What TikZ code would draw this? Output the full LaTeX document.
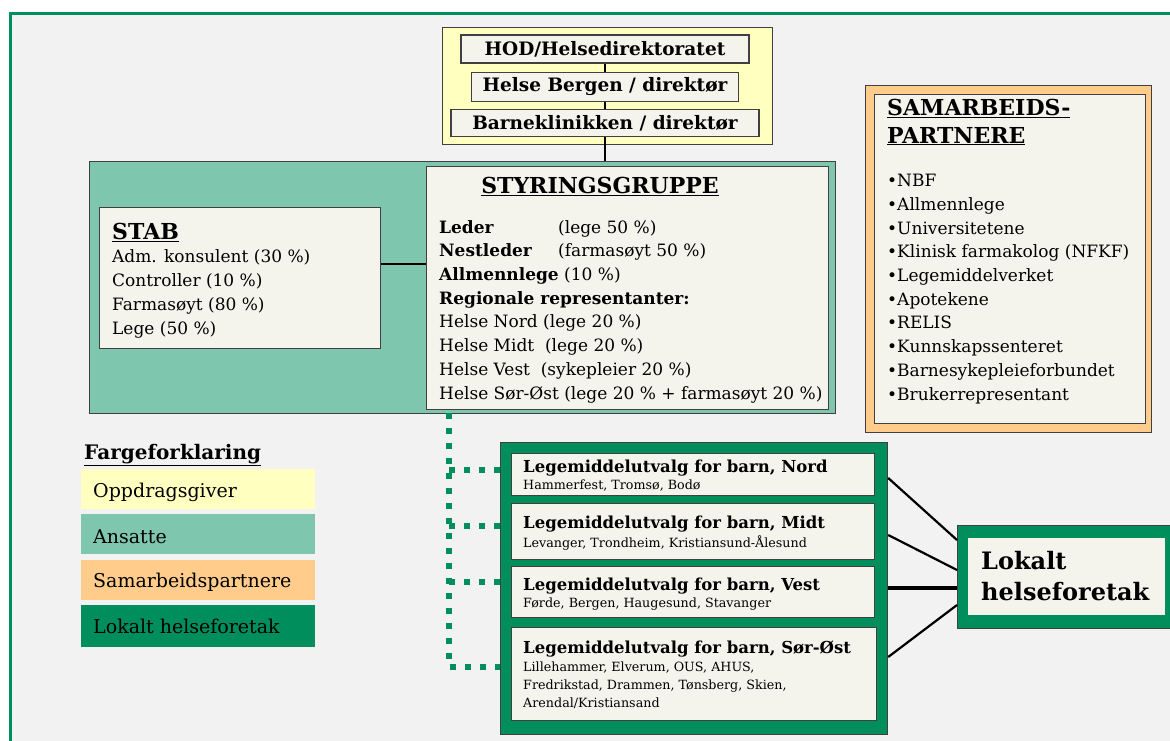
\documentclass[tikz,border=0pt]{standalone}
\usepackage{fontspec}
\setmainfont{DejaVu Serif}
\usetikzlibrary{positioning}
\definecolor{lhfgreen}{RGB}{0,142,92}
\definecolor{ansatt}{RGB}{127,198,175}
\definecolor{oppdrag}{RGB}{255,255,192}
\definecolor{samarb}{RGB}{255,204,140}
\definecolor{cream}{RGB}{245,244,236}
\definecolor{bggray}{RGB}{242,242,242}
\definecolor{boxline}{RGB}{64,64,64}
\tikzset{
  box/.style={draw=boxline, fill=cream, line width=1.2, inner sep=0pt},
  panel/.style={draw=boxline, line width=1.2, inner sep=0pt, anchor=north west},
  legbox/.style={inner sep=0pt, anchor=north west, minimum width=234, minimum height=40},
  txt/.style={inner sep=0pt, anchor=base west, align=left, font=\fontsize{17}{23.7}\selectfont},
  head/.style={inner sep=0pt, font=\bfseries\fontsize{22}{28}\selectfont},
  conn/.style={line width=2.2},
  dots/.style={draw=lhfgreen, line width=6, dash pattern=on 6pt off 9pt},
}
\begin{document}
\begin{tikzpicture}[x=1pt,y=-1pt]
\useasboundingbox (0,0) rectangle (1170,740);
\clip (0,0) rectangle (1170,740);
\fill[bggray] (10,13) rectangle (1180,750);
\draw[lhfgreen, line width=3] (10,13) rectangle (1180,750);

% oppdragsgiver
\node[panel, fill=oppdrag, minimum width=330, minimum height=117] (Oppdrag) at (442,27) {};
\node[box, minimum width=288, minimum height=28, font=\bfseries\fontsize{18.5}{22}\selectfont] (HOD) at (605,49) {HOD/Helsedirektoratet};
\node[box, below=8pt of HOD, minimum width=267, minimum height=29, font=\bfseries\fontsize{18.5}{22}\selectfont] (HB) {Helse Bergen / direktør};
\node[box, below=7pt of HB, minimum width=308, minimum height=27, font=\bfseries\fontsize{18.5}{22}\selectfont] (BK) {Barneklinikken / direktør};

% ansatte
\node[panel, fill=ansatt, minimum width=746, minimum height=252] (Ansatte) at (89,161) {};
\node[panel, fill=cream, minimum width=402, minimum height=243] (Styr) at (426,166) {};
\node[panel, fill=cream, minimum width=281, minimum height=141] (Stab) at (99,207) {};

% multi-line texts sit on the baseline of their last line
\node[head, anchor=base] (StyrHead) at (600,193) {\underline{STYRINGSGRUPPE}};
\node[txt] (StyrTxt) at (439,399) {\makebox[119pt][l]{\textbf{Leder}}(lege 50 \%)\\
  \makebox[119pt][l]{\textbf{Nestleder}}(farmasøyt 50 \%)\\
  \textbf{Allmennlege} (10 \%)\\
  \textbf{Regionale representanter:}\\
  Helse Nord (lege 20 \%)\\
  Helse Midt\ \ (lege 20 \%)\\
  Helse Vest\ \ (sykepleier 20 \%)\\
  Helse Sør-Øst (lege 20 \% + farmasøyt 20 \%)};

\node[head, anchor=base west] (StabHead) at (112,239) {\underline{STAB}};
\node[txt] (StabTxt) at (112,334) {Adm. konsulent (30 \%)\\Controller (10 \%)\\Farmasøyt (80 \%)\\Lege (50 \%)};

% samarbeidspartnere
\node[panel, fill=samarb, minimum width=286, minimum height=347] (Samarb) at (865,85) {};
\node[panel, fill=cream, minimum width=271, minimum height=329] (SamarbIn) at (874,94) {};
\node[head, anchor=base west, align=left] (SamarbHead) at (887,143) {\underline{SAMARBEIDS-}\\\underline{PARTNERE}};
\node[txt] (SamarbTxt) at (887,400) {•NBF\\•Allmennlege\\•Universitetene\\•Klinisk farmakolog (NFKF)\\•Legemiddelverket\\•Apotekene\\•RELIS\\•Kunnskapssenteret\\•Barnesykepleieforbundet\\•Brukerrepresentant};

% fargeforklaring
\node[inner sep=0pt, anchor=base west, font=\bfseries\fontsize{20}{24}\selectfont] (LegHead) at (84,459) {\underline{Fargeforklaring}};
\node[legbox, fill=oppdrag] (LegOpp) at (81,469) {};
\node[legbox, fill=ansatt] (LegAns) at (81,514) {};
\node[legbox, fill=samarb] (LegSam) at (81,560) {};
\node[legbox, fill=lhfgreen, minimum height=42] (LegLhf) at (81,605) {};
\node[txt, font=\fontsize{19}{23}\selectfont] at (93,497) {Oppdragsgiver};
\node[txt, font=\fontsize{19}{23}\selectfont] at (93,543) {Ansatte};
\node[txt, font=\fontsize{19}{23}\selectfont] at (93,587) {Samarbeidspartnere};
\node[txt, font=\fontsize{19}{23}\selectfont] at (93,633) {Lokalt helseforetak};

% legemiddelutvalg
\node[panel, fill=lhfgreen, minimum width=387, minimum height=292] (Utvalg) at (500,442) {};
\node[panel, fill=cream, minimum width=363, minimum height=42] (Nord) at (511,453) {};
\node[panel, fill=cream, minimum width=363, minimum height=56] (Midt) at (511,503) {};
\node[panel, fill=cream, minimum width=363, minimum height=51] (Vest) at (511,566) {};
\node[panel, fill=cream, minimum width=365, minimum height=93] (SorOst) at (511,627) {};
\tikzset{utit/.style={inner sep=0pt, anchor=base west, font=\bfseries\fontsize{16.5}{20}\selectfont},
         usub/.style={inner sep=0pt, anchor=base west, align=left, font=\fontsize{12.7}{17.7}\selectfont}}
\node[utit] at (523,472) {Legemiddelutvalg for barn, Nord};
\node[usub] at (523,489) {Hammerfest, Tromsø, Bodø};
\node[utit] at (523,528) {Legemiddelutvalg for barn, Midt};
\node[usub] at (523,547) {Levanger, Trondheim, Kristiansund-Ålesund};
\node[utit] at (523,590) {Legemiddelutvalg for barn, Vest};
\node[usub] at (523,607) {Førde, Bergen, Haugesund, Stavanger};
\node[utit] at (523,653) {Legemiddelutvalg for barn, Sør-Øst};
\node[usub] at (523,707) {Lillehammer, Elverum, OUS, AHUS,\\Fredrikstad, Drammen, Tønsberg, Skien,\\Arendal/Kristiansand};

% lokalt helseforetak
\node[panel, fill=lhfgreen, minimum width=225, minimum height=103] (LHF) at (957,525) {};
\node[panel, fill=cream, draw=none, minimum width=197, minimum height=77] (LHFIn) at (967,537) {};
\node[inner sep=0pt, anchor=base west, align=left, font=\bfseries\fontsize{24}{31}\selectfont] at (981,600) {Lokalt\\helseforetak};

% connectors
\draw[conn] (HOD.south) -- (HB.north);
\draw[conn] (HB.south) -- (BK.north);
\draw[conn] (BK.south) -- (BK.south |- Ansatte.north);
\draw[conn] (Stab.east |- 0,264) -- (Styr.west |- 0,264);
\draw[conn] (Utvalg.east |- 0,478) -- (LHF.west |- 0,540);
\draw[conn] (Utvalg.east |- 0,535) -- (LHF.west |- 0,570);
\draw[conn, line width=4] (Utvalg.east |- 0,588) -- (LHF.west |- 0,588);
\draw[conn] (Utvalg.east |- 0,657) -- (LHF.west |- 0,605);

\coordinate (DotTop) at (449,413);
\draw[dots] (DotTop) |- (Utvalg.west |- 0,667);
\draw[dots] (DotTop |- 0,470) -- (Utvalg.west |- 0,470);
\draw[dots] (DotTop |- 0,526) -- (Utvalg.west |- 0,526);
\draw[dots] (DotTop |- 0,582) -- (Utvalg.west |- 0,582);
\end{tikzpicture}
\end{document}
